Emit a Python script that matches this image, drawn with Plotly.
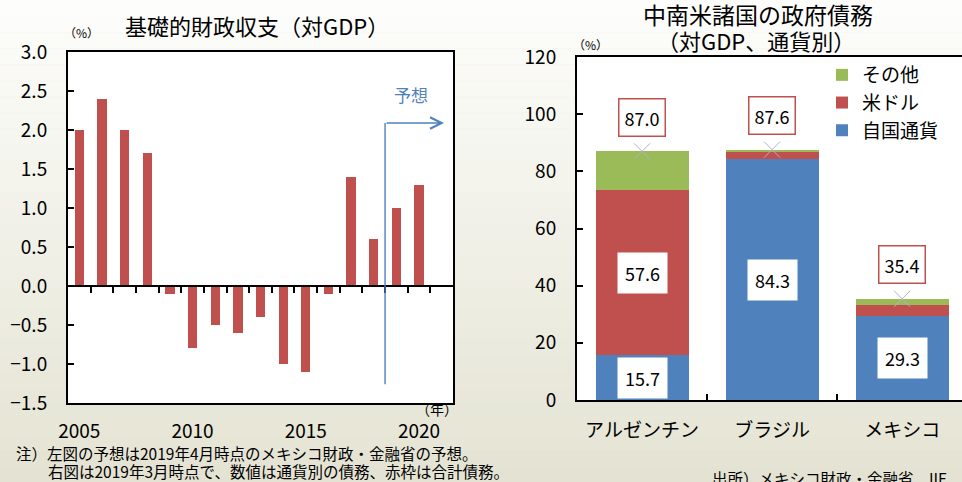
import plotly.graph_objects as go

# ---- Left chart data: primary balance (% of GDP) ----
years = [2005, 2006, 2007, 2008, 2009, 2010, 2011, 2012, 2013, 2014, 2015, 2016, 2017, 2018, 2019, 2020]
balance = [2.0, 2.4, 2.0, 1.7, -0.1, -0.8, -0.5, -0.6, -0.4, -1.0, -1.1, -0.1, 1.4, 0.6, 1.0, 1.3]
year_ticks = [2005, 2010, 2015, 2020]
first_forecast_year = 2019

# ---- Right chart data: government debt by currency (% of GDP) ----
countries = ["アルゼンチン", "ブラジル", "メキシコ"]
local_ccy = [15.7, 84.3, 29.3]
usd = [57.6, 2.6, 4.0]
other = [13.7, 0.7, 2.1]
totals = [87.0, 87.6, 35.4]
y2_ticks = [0, 20, 40, 60, 80, 100, 120]

FONT = "Noto Sans CJK JP"
RED = "#C0504D"
BLUE = "#4F81BD"
GREEN = "#9BBB59"

W, H = 962, 482
def px(x):
    return x / W
def py(y):
    return 1 - y / H

L_dom_x = [px(68), px(453)]
L_dom_y = [py(403), py(52)]
R_dom_x = [px(577), 1.0]
R_dom_y = [py(400), py(57)]

L_range = [years[0] - 0.5, years[-1] + 1.5]
L_yrange = [-1.5, 3.0]
zero_pos = L_dom_y[0] + (L_dom_y[1] - L_dom_y[0]) * (0 - L_yrange[0]) / (L_yrange[1] - L_yrange[0])

fig = go.Figure()

# Left bars
fig.add_trace(go.Bar(x=years, y=balance, width=0.41, marker=dict(color=RED, line=dict(width=0)),
                     xaxis="x", yaxis="y", showlegend=False, hoverinfo="x+y"))
# invisible trace for the zero-axis overlay
fig.add_trace(go.Scatter(x=[years[0]], y=[0], mode="markers", marker=dict(opacity=0),
                         xaxis="x3", yaxis="y", showlegend=False, hoverinfo="skip"))

# Right stacked bars
for name, vals, col in [("自国通貨", local_ccy, BLUE), ("米ドル", usd, RED), ("その他", other, GREEN)]:
    fig.add_trace(go.Bar(x=countries, y=vals, name=name, width=0.715,
                         marker=dict(color=col, line=dict(width=0)),
                         xaxis="x2", yaxis="y2"))
fig.add_trace(go.Scatter(x=countries, y=totals, mode="markers", xaxis="x2", yaxis="y2",
                         marker=dict(symbol="x-thin", size=16, line=dict(color="#B4AED6", width=1)),
                         showlegend=False, hoverinfo="skip"))

annotations = []
# segment labels (white boxes)
for i, c in enumerate(countries):
    base = 0
    for vals in (local_ccy, usd, other):
        v = vals[i]
        if v >= 15:
            annotations.append(dict(x=c, y=base + v / 2, xref="x2", yref="y2", text=f"{v:.1f}",
                                    showarrow=False, bgcolor="white", borderpad=7,
                                    font=dict(family=FONT, size=18, color="black")))
        base += v
    annotations.append(dict(x=c, y=totals[i], xref="x2", yref="y2", text=f"{totals[i]:.1f}",
                            showarrow=False, bgcolor="white", bordercolor=RED, borderwidth=1.5,
                            borderpad=5, yshift=34, font=dict(family=FONT, size=18, color="black")))

# forecast arrow
fx = first_forecast_year - 0.5
annotations.append(dict(x=L_range[1] - 0.4, y=2.09, ax=fx, ay=2.09, xref="x", yref="y",
                        axref="x", ayref="y", showarrow=True, arrowhead=5, arrowsize=1.6,
                        arrowwidth=1.4, arrowcolor=BLUE, text=""))
annotations.append(dict(x=fx + 1.15, y=2.45, xref="x", yref="y", text="予想", showarrow=False,
                        font=dict(family=FONT, size=17, color=BLUE)))

# titles and texts
def txt(x, y, text, size, anchor="center"):
    return dict(x=px(x), y=py(y), xref="paper", yref="paper", text=text, xanchor=anchor,
                yanchor="middle", showarrow=False, font=dict(family=FONT, size=size, color="black"))

annotations += [
    txt(257, 25, "基礎的財政収支（対GDP）", 22),
    txt(758, 14, "中南米諸国の政府債務", 23),
    txt(756, 40, "（対GDP、通貨別）", 22),
    txt(81, 33, "（%）", 12),
    txt(590, 44, "（%）", 12),
    txt(437, 409, "（年）", 14),
    txt(14, 453, "注）左図の予想は2019年4月時点のメキシコ財政・金融省の予想。", 15.5, "left"),
    txt(46, 471, "右図は2019年3月時点で、数値は通貨別の債務、赤枠は合計債務。", 15.5, "left"),
    txt(710, 478, "出所）メキシコ財政・金融省、IIF", 15.5, "left"),
]

shapes = []
# background gradient bands
n = 30
top = (0xFD, 0xFD, 0xFB)
bot = (0xE4, 0xE3, 0xD3)
for k in range(n):
    t = k / (n - 1)
    c = tuple(round(top[j] + (bot[j] - top[j]) * t) for j in range(3))
    shapes.append(dict(type="rect", xref="paper", yref="paper", x0=0, x1=1,
                       y0=1 - (k + 1) / n, y1=1 - k / n, layer="below",
                       fillcolor="rgb(%d,%d,%d)" % c, line=dict(width=0)))
# white plot areas
for dx, dy in [(L_dom_x, L_dom_y), (R_dom_x, R_dom_y)]:
    shapes.append(dict(type="rect", xref="paper", yref="paper", x0=dx[0], x1=dx[1],
                       y0=dy[0], y1=dy[1], layer="below", fillcolor="white", line=dict(width=0)))
# forecast vertical line
shapes.append(dict(type="line", xref="x", yref="y", x0=fx, x1=fx, y0=-1.26, y1=2.09,
                   line=dict(color=BLUE, width=1.4)))

tickfont = dict(family=FONT, size=19, color="black")

fig.update_layout(
    width=W, height=H,
    margin=dict(l=0, r=0, t=0, b=0, pad=0, autoexpand=False),
    paper_bgcolor="#EEEDE3",
    plot_bgcolor="rgba(0,0,0,0)",
    barmode="stack",
    bargap=0,
    font=dict(family=FONT, color="black"),
    showlegend=True,
    legend=dict(x=px(822), y=py(56), xanchor="left", yanchor="top", traceorder="reversed",
                bgcolor="rgba(0,0,0,0)", font=dict(family=FONT, size=19, color="black"),
                itemwidth=30, tracegroupgap=0),
    xaxis=dict(domain=L_dom_x, range=L_range, anchor="y", tickvals=year_ticks, ticks="",
               showline=True, mirror=True, linecolor="black", linewidth=2, showgrid=False,
               zeroline=False, tickfont=tickfont, ticklabelstandoff=10, automargin=False),
    yaxis=dict(domain=L_dom_y, range=L_yrange, anchor="x", dtick=0.5, tickformat=".1f",
               ticks="inside", ticklen=6, tickcolor="black", tickwidth=1.5,
               showline=True, mirror=True, linecolor="black", linewidth=2, showgrid=False,
               zeroline=False, tickfont=tickfont, ticklabelstandoff=15, automargin=False),
    xaxis3=dict(overlaying="x", anchor="free", position=zero_pos, range=L_range,
                tickvals=[y + 0.5 for y in years], ticks="outside", ticklen=6, tickwidth=1.5,
                tickcolor="black", showticklabels=False, showline=True, linecolor="black",
                linewidth=1.5, showgrid=False, zeroline=False, automargin=False),
    xaxis2=dict(domain=R_dom_x, range=[-0.5, 2.46], anchor="y2", type="category",
                tickson="boundaries", ticks="inside", ticklen=6, tickwidth=1.5, tickcolor="black",
                showline=True, mirror=True, linecolor="black", linewidth=2, showgrid=False,
                zeroline=False, tickfont=dict(family=FONT, size=19, color="black"),
                ticklabelstandoff=12, automargin=False),
    yaxis2=dict(domain=R_dom_y, range=[0, 120], anchor="x2", tickvals=y2_ticks,
                ticks="inside", ticklen=6, tickwidth=1.5, tickcolor="black",
                showline=True, mirror=False, linecolor="black", linewidth=2, showgrid=False,
                zeroline=False, tickfont=tickfont, ticklabelstandoff=15, automargin=False),
    annotations=annotations,
    shapes=shapes,
)

fig.write_html("out.html", config={"displayModeBar": False},
               post_script="document.body.style.margin='0';document.body.style.padding='0';")
